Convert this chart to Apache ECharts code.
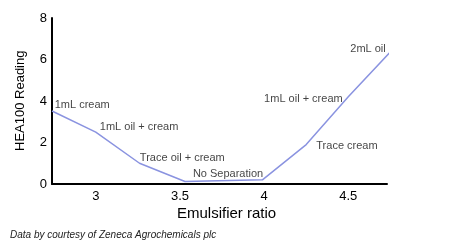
<!DOCTYPE html>
<html>
<head>
<meta charset="utf-8">
<script src="https://cdn.jsdelivr.net/npm/echarts@6/dist/echarts.min.js"></script>
<style>html,body{margin:0;padding:0;background:#fff;}#c{width:462px;height:249px;}</style>
</head>
<body>
<div id="c"></div>
<script>
// Data
const ratio = [2.74, 3.0, 3.26, 3.53, 3.99, 4.25, 4.5, 4.76];
const reading = [3.52, 2.5, 1.0, 0.12, 0.2, 1.9, 4.2, 6.45];
const xTicks = [3, 3.5, 4, 4.5];
const yTicks = [0, 2, 4, 6, 8];
const noteText = ['1mL cream', '1mL oil + cream', 'Trace oil + cream', 'No Separation', 'Trace cream', '1mL oil + cream', '2mL oil'];
const noteX = [2.756, 3.024, 3.262, 3.577, 4.31, 4.0, 4.512];
const noteY = [3.81, 2.75, 1.25, 0.48, 1.83, 4.1, 6.5];

const chart = echarts.init(document.getElementById('c'), null, {renderer: 'canvas'});
const font = 'Liberation Sans, Arial, sans-serif';
chart.setOption({
  animation: false,
  grid: {left: 52, top: 18, right: 75, bottom: 65},
  xAxis: {
    type: 'value', min: 2.74, max: 4.73,
    axisLine: {show: true, lineStyle: {color: '#000', width: 2}},
    axisTick: {show: false},
    splitLine: {show: false},
    axisLabel: {customValues: xTicks, color: '#000', fontSize: 13, fontFamily: font, margin: 6,
      formatter: v => String(v)}
  },
  yAxis: {
    type: 'value', min: 0, max: 8, interval: 2,
    axisLine: {show: true, lineStyle: {color: '#000', width: 2}},
    axisTick: {show: false},
    splitLine: {show: false},
    axisLabel: {color: '#000', fontSize: 13, fontFamily: font, margin: 5}
  },
  series: [{
    type: 'line',
    data: ratio.map((x, i) => [x, reading[i]]),
    showSymbol: false,
    clip: false,
    lineStyle: {color: '#8a93e0', width: 1.5}
  }, {
    type: 'scatter',
    symbolSize: 0,
    data: noteX.map((x, i) => ({value: [x, noteY[i]], name: noteText[i]})),
    label: {show: true, position: 'right', distance: 0, formatter: p => p.name,
      color: '#111', fontSize: 11, fontFamily: font}
  }],
  graphic: [
    {type: 'text', left: 177, top: 206, style: {text: 'Emulsifier ratio', fontSize: 15, fontFamily: font, fill: '#000'}},
    {type: 'text', x: 14, y: 151, rotation: Math.PI / 2, style: {text: 'HEA100 Reading', fontSize: 13, fontFamily: font, fill: '#000'}},
    {type: 'text', left: 10, top: 230, style: {text: 'Data by courtesy of Zeneca Agrochemicals plc', fontSize: 10, fontStyle: 'italic', fontFamily: font, fill: '#222'}}
  ]
});
</script>
</body>
</html>
